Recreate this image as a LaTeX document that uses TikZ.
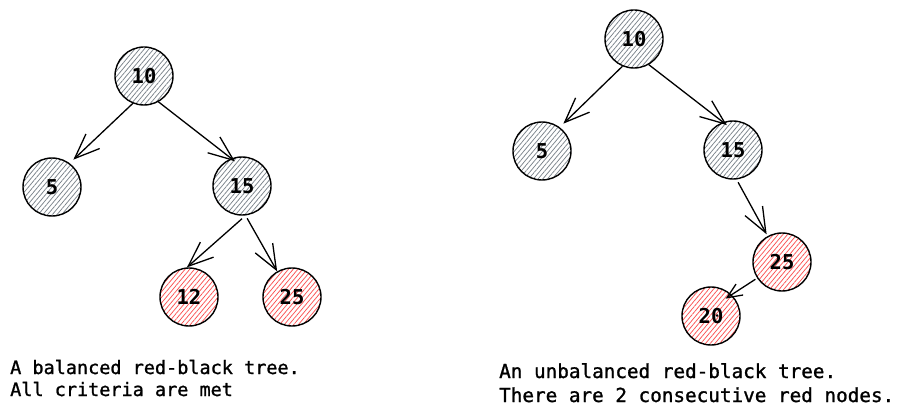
\documentclass[tikz,border=0pt]{standalone}
\usepackage{fontspec}
\setmonofont{DejaVu Sans Mono}
\newfontfamily\capfont[FakeBold=1.2]{DejaVu Sans Mono}
\usetikzlibrary{arrows.meta,patterns.meta}
\definecolor{hatchgray}{HTML}{7A828A}
\definecolor{hatchred}{HTML}{FA5252}
\tikzset{
  treenode/.style={circle, draw=black, line width=1.4pt, minimum size=58pt, inner sep=0pt,
    font=\ttfamily\bfseries\fontsize{20.5}{20.5}\selectfont},
  blacknode/.style={treenode, pattern={Lines[angle=50,distance=3.6pt,line width=0.75pt]}, pattern color=hatchgray},
  rednode/.style={treenode, pattern={Lines[angle=50,distance=3.6pt,line width=0.75pt]}, pattern color=hatchred},
  edge/.style={line width=1.3pt, -{Straight Barb[length=25pt,width=20pt,line width=1.3pt]}},
  shortedge/.style={line width=1.3pt, -{Straight Barb[length=15pt,width=13pt,line width=1.3pt]}},
  captionL/.style={anchor=base west, inner sep=0pt, font=\capfont\fontsize{18.5}{18.5}\selectfont},
  captionR/.style={anchor=base west, inner sep=0pt, font=\capfont\fontsize{19.3}{19.3}\selectfont},
}
\begin{document}
\begin{tikzpicture}[x=1pt,y=-1pt]
\useasboundingbox (0,0) rectangle (906,417);
% left tree
\node[blacknode] (l10) at (144,76) {10};
\node[blacknode] (l5) at (52,187) {5};
\node[blacknode] (l15) at (242,186) {15};
\node[rednode] (l12) at (189,297) {12};
\node[rednode] (l25) at (292,297) {25};
\draw[edge] (l10.-112) -- ([shift={(52:5pt)}]l5.52);
\draw[edge] (l10.-61) -- ([shift={(106:-4pt)}]l15.106);
\draw[edge] ([shift={(-90:3pt)}]l15.-90) -- (l12.94);
\draw[edge] ([shift={(-81:3pt)}]l15.-81) -- (l25.120);
% right tree
\node[blacknode] (r10) at (634,39) {10};
\node[blacknode] (r5) at (542,151) {5};
\node[blacknode] (r15) at (733,150) {15};
\node[rednode] (r25) at (782,262) {25};
\node[rednode] (r20) at (711,316) {20};
\draw[edge] (r10.-113) -- ([shift={(52:5pt)}]r5.52);
\draw[edge] (r10.-60) -- ([shift={(104:-4pt)}]r15.104);
\draw[edge] ([shift={(-81:3pt)}]r15.-81) -- ([shift={(119:2pt)}]r25.119);
\draw[shortedge] ([shift={(-147:2pt)}]r25.-147) -- ([shift={(50:-7pt)}]r20.50);
% captions
\node[captionL] (capLa) at (10,374) {A balanced red-black tree.};
\node[captionL] (capLb) at (10,396) {All criteria are met};
\node[captionR] (capRa) at (499,378) {An unbalanced red-black tree.};
\node[captionR] (capRb) at (499,402) {There are 2 consecutive red nodes.};
\end{tikzpicture}
\end{document}
